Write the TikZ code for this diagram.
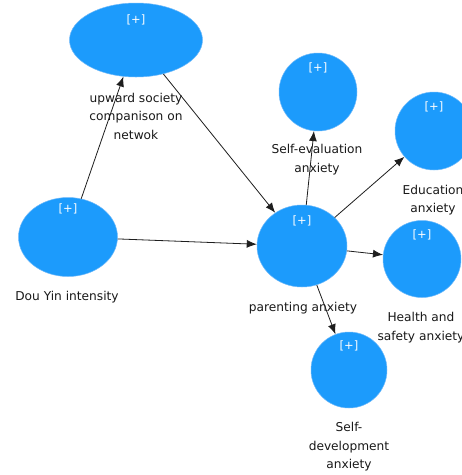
\documentclass[tikz,border=0pt]{standalone}
\usepackage{fontspec}
\setmainfont{DejaVu Sans}
\usetikzlibrary{shapes.geometric,arrows.meta}
\definecolor{nodeblue}{RGB}{28,155,252}
\definecolor{edgeblue}{RGB}{110,185,250}
\definecolor{txt}{RGB}{25,25,25}
\definecolor{arr}{RGB}{30,30,30}
\begin{document}
\begin{tikzpicture}[x=1pt,y=-1pt,
  lv/.style={ellipse, fill=nodeblue, draw=edgeblue, line width=0.5pt, inner sep=0pt},
  plus/.style={text=white, font=\fontsize{11.5}{13}\selectfont, inner sep=0pt},
  lab/.style={text=txt, font=\fontsize{12.2}{18.5}\selectfont, align=center, inner sep=0pt},
  conn/.style={draw=arr, line width=0.8pt, -{Latex[length=10pt,width=8pt]}}]
\clip (0,0) rectangle (462,475);
\fill[white] (0,0) rectangle (462,475);
% latent variable nodes
\node[lv, minimum width=133pt, minimum height=74pt] (up) at (136,40) {};
\node[lv, minimum width=78pt, minimum height=78pt] (se) at (318,92) {};
\node[lv, minimum width=78pt, minimum height=78pt] (ed) at (434,131) {};
\node[lv, minimum width=90pt, minimum height=82pt] (pa) at (302,246) {};
\node[lv, minimum width=78pt, minimum height=77pt] (he) at (422,259) {};
\node[lv, minimum width=76pt, minimum height=76pt] (sd) at (349,370) {};
\node[lv, minimum width=99pt, minimum height=79pt] (dy) at (68,237) {};
% [+] markers
\node[plus] (upp) at (136,20) {[+]};
\node[plus] (sep) at (318,68) {[+]};
\node[plus] (edp) at (434,107) {[+]};
\node[plus] (pap) at (302,221) {[+]};
\node[plus] (hep) at (422,235) {[+]};
\node[plus] (sdp) at (349,346) {[+]};
\node[plus] (dyp) at (68,209) {[+]};
% labels
\node[lab] (upl) at (136,116) {upward society\\companison on\\netwok};
\node[lab] (sel) at (317,159.5) {Self-evaluation\\anxiety};
\node[lab] (edl) at (433,200) {Education\\anxiety};
\node[lab] (dyl) at (67,297) {Dou Yin intensity};
\node[lab] (pal) at (303,308) {parenting anxiety};
\node[lab] (hel) at (421,327.5) {Health and\\safety anxiety};
\node[lab] (sdl) at (349,447) {Self-\\development\\anxiety};
% connectors
\draw[conn] (dy) -- (up);
\draw[conn] (dy) -- (pa);
\draw[conn] (up) -- (pa);
\draw[conn] (pa) -- (se);
\draw[conn] (pa) -- (ed);
\draw[conn] (pa) -- (he);
\draw[conn] (pa) -- (sd);
\end{tikzpicture}
\end{document}
